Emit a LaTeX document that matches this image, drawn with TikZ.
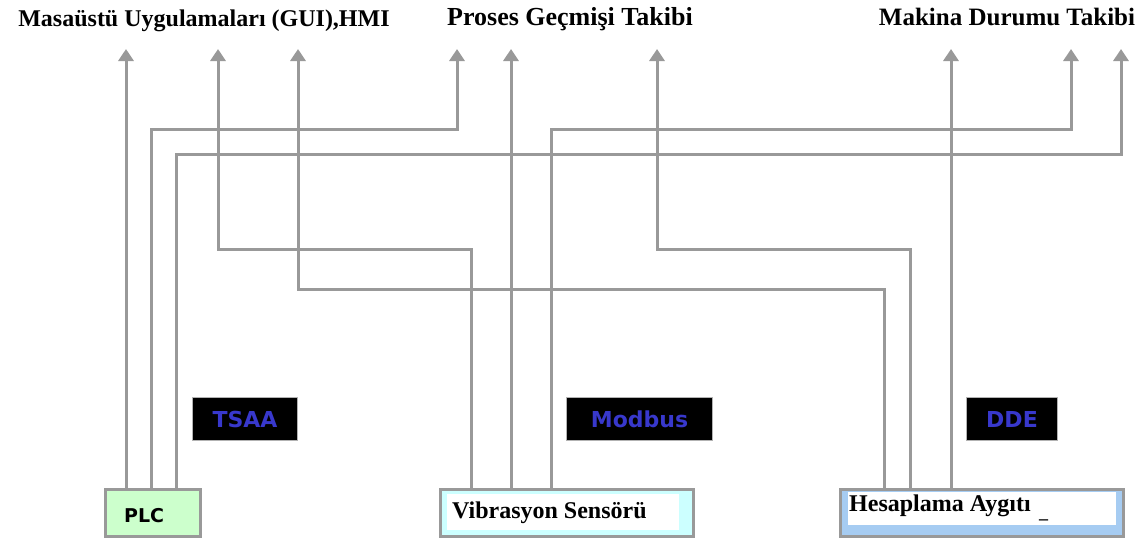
\documentclass[tikz,border=0pt]{standalone}
\usepackage{fontspec}
\setmainfont{Liberation Serif}
\newfontfamily\plcfont{DejaVu Sans}
\newfontfamily\tagfont{DejaVu Sans}
\usetikzlibrary{arrows.meta}
\definecolor{linegray}{HTML}{999999}
\definecolor{taggreen}{HTML}{CCFFCC}
\definecolor{tagcyan}{HTML}{CCFFFF}
\definecolor{tagblue}{HTML}{A6CCF2}
\definecolor{tagtext}{HTML}{3838CC}
\tikzset{
  conn/.style={draw=linegray, line width=3pt, -{Triangle[width=15pt,length=12pt]}},
  title/.style={font=\bfseries, inner sep=0pt},
  devbox/.style={draw=linegray, line width=3pt, minimum height=47pt, inner sep=0pt},
  tagbox/.style={draw=black!30, line width=1pt, fill=black, text=tagtext, minimum height=43pt, inner sep=0pt, font=\tagfont\bfseries\fontsize{22}{24}\selectfont},
}
\begin{document}
\begin{tikzpicture}[x=1pt,y=-1pt]
\useasboundingbox (0,0) rectangle (1146,541);
% titles
\node[title, font=\fontsize{24}{28}\selectfont\bfseries, anchor=base] (gui) at (204,26) {Masaüstü Uygulamaları (GUI),HMI};
\node[title, font=\fontsize{26}{28}\selectfont\bfseries, anchor=base] (pro) at (570,25) {Proses Geçmişi Takibi};
\node[title, font=\fontsize{25}{28}\selectfont\bfseries, anchor=base] (mak) at (1007,25) {Makina Durumu Takibi};
% arrow tip coordinates
\coordinate (g1) at (126,49);
\coordinate (g2) at (218,49);
\coordinate (g3) at (298,49);
\coordinate (p1) at (457,49);
\coordinate (p2) at (511,49);
\coordinate (p3) at (657,49);
\coordinate (m1) at (951,49);
\coordinate (m2) at (1071,49);
\coordinate (m3) at (1121,49);
% devices
\node[devbox, fill=taggreen, minimum width=95pt, anchor=north west] (plc) at (104,488) {};
\node[font=\plcfont\bfseries\fontsize{19}{22}\selectfont, anchor=base west, inner sep=0pt] (plct) at (124,522) {PLC};
\node[devbox, fill=tagcyan, minimum width=253pt, anchor=north west] (vib) at (439,488) {};
\node[fill=white, minimum width=232pt, minimum height=36pt, anchor=north west, inner sep=0pt] (vibw) at (447,494) {};
\node[font=\fontsize{24}{28}\selectfont\bfseries, anchor=base west, inner sep=0pt] (vibt) at (452,518) {Vibrasyon Sensörü};
\node[devbox, fill=tagblue, minimum width=283pt, anchor=north west] (hes) at (839,488) {};
\node[fill=white, minimum width=268pt, minimum height=33pt, anchor=north west, inner sep=0pt] (hesw) at (848,492) {};
\node[font=\fontsize{24}{28}\selectfont\bfseries, anchor=base west, inner sep=0pt] (hest) at (849,511) {Hesaplama Aygıtı};
\node[font=\fontsize{18}{22}\selectfont\bfseries, anchor=base west, inner sep=0pt] (hesu) at (1039,518) {\_};
% protocol tags
\node[tagbox, minimum width=105pt, anchor=north west] (tsaa) at (192,397) {TSAA};
\node[tagbox, minimum width=146pt, anchor=north west] (modbus) at (566,397) {Modbus};
\node[tagbox, minimum width=91pt, anchor=north west] (dde) at (966,397) {DDE};
% connectors from PLC
\draw[conn] (plc.north -| g1) -- (g1);
\draw[conn] (plc.north -| 151,0) |- (457,129) -- (p1);
\draw[conn] (plc.north -| 176,0) |- (1121,154) -- (m3);
% connectors from Vibrasyon
\draw[conn] (vib.north -| 471,0) |- (218,249) -- (g2);
\draw[conn] (vib.north -| p2) -- (p2);
\draw[conn] (vib.north -| 551,0) |- (1071,129) -- (m2);
% connectors from Hesaplama
\draw[conn] (hes.north -| 884,0) |- (298,289) -- (g3);
\draw[conn] (hes.north -| 910,0) |- (657,249) -- (p3);
\draw[conn] (hes.north -| m1) -- (m1);
\end{tikzpicture}
\end{document}
